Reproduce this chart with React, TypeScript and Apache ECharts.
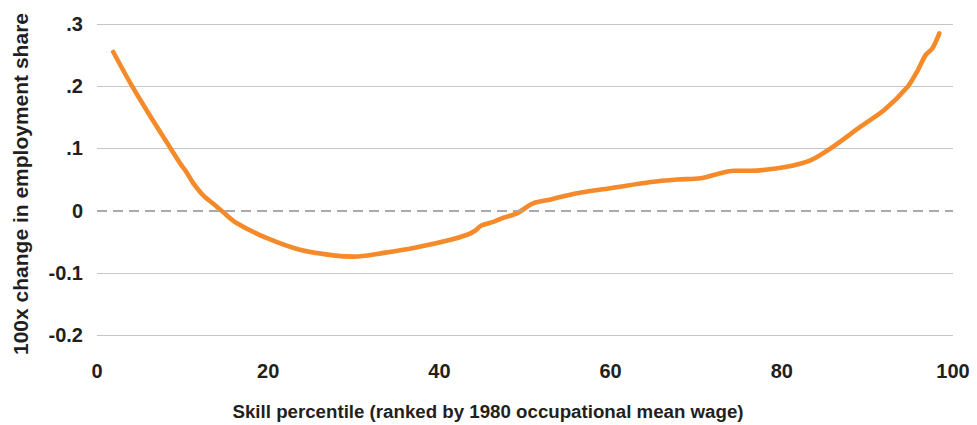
import React, { useEffect, useRef } from "react";
import * as echarts from "echarts";

const percentiles: number[] = [
  1.9, 4.1, 6.3, 8.6, 9.7, 10.4, 11.2, 12.05, 12.6, 13.6, 14.7, 16.3, 19.8, 23.7,
  27.6, 30.0, 33.5, 37.4, 41.3, 43.4, 44.2, 44.9, 46.3, 47.6, 49.1, 51.0, 53.0,
  56.1, 60.0, 64.7, 67.8, 70.5, 72.5, 74.4, 76.4, 79.5, 81.2, 83.4, 85.7, 89.2,
  92.0, 94.7, 95.9, 96.8, 97.6, 98.4,
];
const shareChange: number[] = [
  0.255, 0.2, 0.15, 0.1, 0.076, 0.063, 0.045, 0.03, 0.022, 0.011, -0.002, -0.02,
  -0.044, -0.063, -0.072, -0.074, -0.068, -0.059, -0.047, -0.038, -0.032, -0.024,
  -0.018, -0.011, -0.004, 0.012, 0.018, 0.028, 0.036, 0.046, 0.05, 0.052, 0.059,
  0.064, 0.064, 0.068, 0.072, 0.081, 0.1, 0.135, 0.162, 0.199, 0.226, 0.25, 0.261,
  0.285,
];
const yTickValues: number[] = [-0.2, -0.1, 0, 0.1, 0.2, 0.3];
const yTickLabels: string[] = ["-0.2", "-0.1", "0", ".1", ".2", ".3"];
const xTitle = "Skill percentile (ranked by 1980 occupational mean wage)";
const yTitle = "100x change in employment share";

const FONT = "'Liberation Sans', Arial, Helvetica, sans-serif";
const TEXT = "#231f20";
const GRID = "#c4c5c7";

export default function App() {
  const ref = useRef<HTMLDivElement>(null);
  useEffect(() => {
    if (!ref.current) return;
    const chart = echarts.init(ref.current, undefined, { renderer: "svg" });
    const labelFor = (v: number) => {
      let best = 0;
      for (let i = 0; i < yTickValues.length; i++) {
        if (Math.abs(yTickValues[i] - v) < Math.abs(yTickValues[best] - v)) best = i;
      }
      return yTickLabels[best];
    };
    chart.setOption({
      animation: false,
      backgroundColor: "#ffffff",
      grid: { left: 97, right: 24, top: 24, bottom: 90, containLabel: false },
      xAxis: {
        type: "value",
        min: 0,
        max: 100,
        interval: 20,
        axisLine: { show: false },
        axisTick: { show: false },
        splitLine: { show: false },
        axisLabel: {
          margin: 26,
          color: TEXT,
          fontFamily: FONT,
          fontWeight: "bold",
          fontSize: 20,
        },
      },
      yAxis: {
        type: "value",
        min: -0.2,
        max: 0.3,
        interval: 0.1,
        axisLine: { show: false },
        axisTick: { show: false },
        splitLine: {
          show: true,
          lineStyle: {
            color: [GRID, GRID, "rgba(0,0,0,0)", GRID, GRID, GRID],
            width: 1.2,
          },
        },
        axisLabel: {
          margin: 14,
          color: TEXT,
          fontFamily: FONT,
          fontWeight: "bold",
          fontSize: 20,
          formatter: (v: number) => labelFor(v),
        },
      },
      graphic: [
        {
          type: "text",
          x: 488,
          y: 411,
          style: {
            text: xTitle,
            fill: TEXT,
            font: `bold 18.7px ${FONT}`,
            align: "center",
            verticalAlign: "middle",
          },
        },
        {
          type: "text",
          x: 20,
          y: 184,
          rotation: Math.PI / 2,
          style: {
            text: yTitle,
            fill: TEXT,
            font: `bold 21px ${FONT}`,
            align: "center",
            verticalAlign: "middle",
          },
        },
      ],
      series: [
        {
          type: "line",
          data: percentiles.map((p, i) => [p, shareChange[i]]),
          showSymbol: false,
          smooth: 0.3,
          lineStyle: { color: "#f58a2b", width: 4.6, cap: "round" },
          markLine: {
            silent: true,
            symbol: "none",
            label: { show: false },
            lineStyle: { color: "#a7a9ac", type: [10, 6], width: 2 },
            data: [{ yAxis: 0 }],
          },
          z: 3,
        },
      ],
    });
    return () => chart.dispose();
  }, []);
  return <div ref={ref} style={{ width: 977, height: 425, position: "absolute", left: 0, top: 0 }} />;
}
